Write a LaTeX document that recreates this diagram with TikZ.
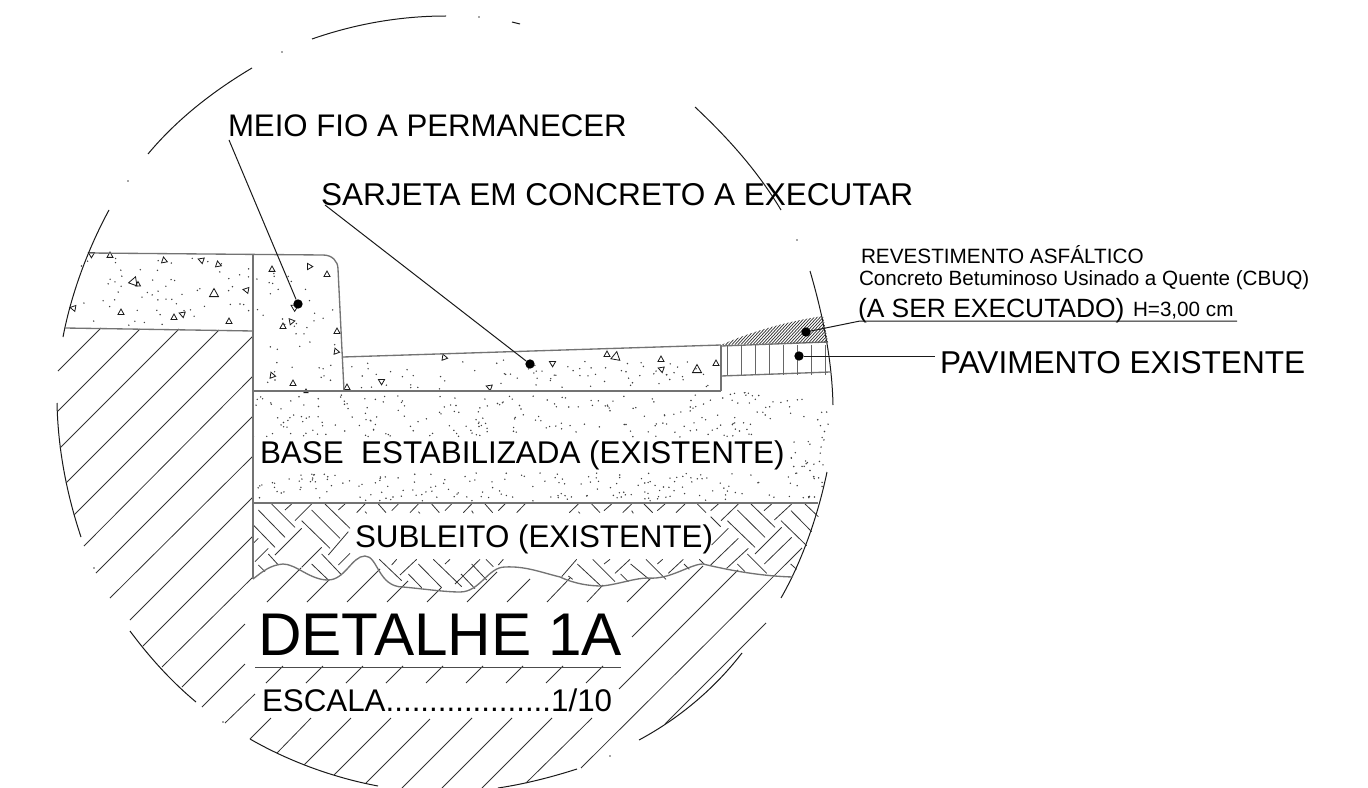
\documentclass[tikz,border=0pt]{standalone}
\usepackage{fontspec}
\setmainfont{Liberation Sans}
\newcommand{\fs}[1]{\fontsize{#1}{#1}\selectfont}
\newcommand{\tri}[4]{\draw[tri,rotate around={#4:(#1,#2)}] (#1-#3,#2+#3*.8) -- (#1+#3,#2+#3*.8) -- (#1,#2-#3) -- cycle;}
\tikzset{
 arcl/.style={draw=black!90,line width=.75pt},
 hat/.style={draw=black!80,line width=.6pt},
 edge/.style={draw=black!55,line width=1pt},
 tri/.style={draw=black!90,line width=.6pt},
 lead/.style={draw=black!90,line width=.75pt},
 lab/.style={anchor=base west,inner sep=0pt,outer sep=0pt,text=black},
 mark dot/.style={circle,fill=black,inner sep=0pt,minimum size=7pt},
}
\begin{document}
\begin{tikzpicture}[x=.75pt,y=-.75pt]
\useasboundingbox (0,0) rectangle (1368,788);
% ----- circle arcs
\draw[arcl] (63,337) .. controls (72,290) and (90,245) .. (109,210);
\draw[arcl] (148,154) .. controls (178,118) and (215,90) .. (252,68);
\draw[arcl] (312,39) .. controls (355,24) and (400,16) .. (446,16);
\draw[arcl] (512,22) -- (520,24);
\draw[arcl] (695,107) .. controls (727,137) and (757,170) .. (781,210);
\draw[arcl] (810,271) .. controls (822,312) and (832,358) .. (833,405);
\draw[arcl] (57,403) .. controls (58,450) and (67,495) .. (81,537);
\draw[arcl] (130,631) .. controls (150,658) and (172,682) .. (196,702);
\draw[arcl] (250,739) .. controls (290,762) and (335,778) .. (378,786);
\draw[arcl] (498,788) .. controls (525,784) and (552,777) .. (577,769);
\draw[arcl] (639,740) .. controls (680,718) and (715,688) .. (742,653);
\draw[arcl] (827,472) .. controls (817,520) and (800,565) .. (781,598);
\foreach \x/\y in {479/17,282/52,128/181,797/240,94/568,223/722,610/756}
 {\fill[black!70] (\x,\y) circle (.8);}
% ----- section hatch (45 deg lines as x1 y1 x2 y2)
\foreach \a/\b/\c/\d in {
 58/371/101/328, 58/411/140/329, 60/448/179/329, 66/483/219/330,
 74/515/253/336, 84/546/253/376, 96/573/253/416, 110/598/253/456, 130/620/253/497,
 143/646/253/536, 162/667/253/577, 182/687/245/624, 202/707/245/664, 225/723/255/694,
 250/739/271/718, 277/753/311/718, 304/765/351/718, 334/775/391/718, 366/783/430/719,
 402/788/472/718, 442/788/512/718, 482/788/552/718, 526/783/592/718,
 267/602/301/568, 307/602/329/580, 347/602/380/569, 387/602/408/581, 427/602/441/588,
 467/602/497/572, 507/602/530/579, 547/602/570/578, 587/602/603/585, 627/602/650/579,
 632/637/703/566, 619/689/738/570, 581/768/802/548, 665/724/766/623,
 266/683/283/666, 306/683/323/666, 346/683/363/666, 386/683/403/666,
 426/683/443/666, 466/683/483/666, 506/683/523/666, 546/683/563/666, 586/683/603/666}
 {\draw[hat] (\a,\b) -- (\c,\d);}
% ----- herringbone in the subgrade, left part (zoom units origin 230,490)
\begin{scope}[shift={(230,490)},x=.25pt,y=-.25pt]
\foreach \a/\b/\c/\d in {
 165/60/185/42, 195/92/245/42, 325/60/345/42, 380/68/405/42, 485/62/505/42, 540/68/565/42,
 645/62/665/42, 700/68/725/42, 805/62/825/42, 860/68/885/42,
 405/65/410/70, 445/42/468/68, 565/65/570/70, 605/42/628/68, 725/62/730/70, 765/42/788/68,
 85/60/165/142, 125/42/195/112, 70/105/135/172, 245/60/330/145, 215/92/300/175, 285/42/360/115,
 115/192/145/225, 85/225/105/245, 245/222/295/270, 275/192/335/255,
 448/208/515/272, 535/252/575/293, 565/222/635/293, 610/208/695/290, 693/252/735/296,
 725/222/770/270, 768/208/790/230,
 70/160/85/145, 75/215/115/175, 135/195/215/115, 295/195/355/125, 215/232/275/172, 325/225/360/190,
 510/255/560/208, 485/225/500/208, 645/222/660/208, 675/282/750/208, 805/225/820/208}
 {\draw[hat] (\a,\b) -- (\c,\d);}
\end{scope}
% ----- herringbone, right part (zoom units origin 560,490)
\begin{scope}[shift={(560,490)},x=.25pt,y=-.25pt]
\foreach \a/\b/\c/\d in {
 28/68/55/42, 55/65/60/70, 95/42/120/68, 132/62/155/42, 188/68/215/42, 215/62/220/70,
 252/42/278/68, 292/62/315/42, 348/68/375/42, 412/42/438/68, 452/62/475/42,
 455/165/505/115, 452/225/535/145, 500/235/565/175, 483/92/535/42, 585/192/665/112,
 613/222/695/142, 643/90/695/42, 612/62/635/42,
 532/60/615/142, 502/92/585/172, 573/42/645/112, 693/62/755/125, 663/92/740/167, 735/42/775/80,
 452/80/482/110, 562/192/620/250, 532/222/555/245, 692/222/710/238,
 5/260/50/208, 165/250/210/208, 325/250/370/208, 132/222/150/208, 292/222/308/208,
 52/222/125/290, 98/208/165/275, 212/222/270/270, 258/208/318/268, 182/252/205/275,
 372/222/388/238, 418/208/432/222, 25/258/38/268}
 {\draw[hat] (\a,\b) -- (\c,\d);}
\end{scope}
% ----- stipple
\pgfmathsetseed{1368}
\begin{scope}
\clip (253,392) rectangle (832,503);
\foreach \i in {1,...,230}{
 \pgfmathsetmacro{\x}{253+577*rnd}\pgfmathsetmacro{\y}{395+42*rnd}
 \fill[black!75] (\x,\y) circle (.8);}
\foreach \i in {1,...,190}{
 \pgfmathsetmacro{\x}{253+570*rnd}\pgfmathsetmacro{\y}{473+28*rnd}
 \fill[black!75] (\x,\y) circle (.8);}
\foreach \i in {1,...,22}{
 \pgfmathsetmacro{\x}{790+38*rnd}\pgfmathsetmacro{\y}{435+40*rnd}
 \fill[black!75] (\x,\y) circle (.8);}
\foreach \i in {1,...,35}{
 \pgfmathsetmacro{\x}{722+106*rnd}\pgfmathsetmacro{\y}{378+18*rnd}
 \fill[black!75] (\x,\y) circle (.8);}
\end{scope}
\foreach \i in {1,...,60}{
 \pgfmathsetmacro{\x}{78+172*rnd}\pgfmathsetmacro{\y}{258+68*rnd}
 \fill[black!75] (\x,\y) circle (.8);}
\foreach \i in {1,...,40}{
 \pgfmathsetmacro{\x}{256+80*rnd}\pgfmathsetmacro{\y}{260+128*rnd}
 \fill[black!75] (\x,\y) circle (.8);}
\foreach \i in {1,...,75}{
 \pgfmathsetmacro{\x}{346+372*rnd}\pgfmathsetmacro{\y}{360+29*rnd}
 \fill[black!75] (\x,\y) circle (.8);}
% ----- aggregate triangles
\foreach \a/\b/\s/\r in {92/254/3/-60,110/255/3/0,164/260/3/10,201/260/3/70,218/264/3/10,134/281/4.5/-20,138/284/2.5/0,214/293/4.5/0,246/290/3/80,73/308/3/80,121/312/3/0,174/317/3/0,182/314/3/70,229/321/3/0,272/269/3/0,309/266/3/30,327/274/3/0,294/307/3.5/60,291/321/3/40,283/326/3/0,337/331/3/0,336/351/3/20,272/375/3/20,293/383/3/0,306/391/2/0,347/387/3/0,444/357/3/20,
 489/387/3/70,552/363/3/60,607/354/3/0,616/356/4.5/-10,661/359/3/0,661/369/3/70,697/369/4.5/0,716/363/3/0,381/381/3/60}
 {\tri{\a}{\b}{\s}{\r}}
% ----- outlines
\draw[edge] (89,253) -- (323,255) .. controls (332,255) and (338,261) .. (338,269) -- (344,391);
\draw[edge] (65,328) -- (253,331);
\draw[edge] (253,254) -- (253,579);
\draw[edge] (343,357) -- (721,345);
\draw[edge] (253,391) -- (721,391);
\draw[edge] (721,345) -- (721,391);
\draw[edge] (253,503) -- (818,503);
\draw[edge] (253,579) .. controls (262,572) and (270,565) .. (283,564)
 .. controls (296,564) and (310,580) .. (328,580)
 .. controls (345,580) and (352,556) .. (365,556)
 .. controls (378,556) and (378,587) .. (403,587)
 .. controls (425,589) and (445,592) .. (460,592)
 .. controls (480,592) and (488,567) .. (505,567)
 .. controls (525,566) and (540,572) .. (560,577)
 .. controls (575,584) and (590,586) .. (602,586)
 .. controls (620,584) and (635,578) .. (648,578)
 .. controls (670,580) and (690,564) .. (703,564)
 .. controls (720,568) and (755,576) .. (793,577);
% ----- existing pavement
\draw[edge] (721,346) -- (828,342);
\draw[edge] (721,376) -- (830,372);
\foreach \x in {727,741,755,769,783,797,811,825}
 {\draw[draw=black!60,line width=.55pt] (\x,345) -- (\x,375);}
% ----- asphalt wedge
\begin{scope}
\clip (721,345) .. controls (755,330) and (790,321) .. (823,316) -- (828,342) -- cycle;
\foreach \k in {0,...,50}{\draw[black!80,line width=.55pt] (715+3*\k,350) -- (750+3*\k,312);}
\end{scope}
% ----- labels
\node[lab] (meio) at (228,137) {\fs{23.4}MEIO FIO A PERMANECER};
\node[lab] (sarjeta) at (321,205.5) {\fs{23.65}SARJETA EM CONCRETO A EXECUTAR};
\node[lab] (rev) at (861,263) {\fs{15.55}REVESTIMENTO ASFÁLTICO};
\node[lab] (cbuq) at (859,286) {\fs{15.5}Concreto Betuminoso Usinado a Quente (CBUQ)};
\node[lab] (aser) at (858,317) {\fs{19.8}(A SER EXECUTADO)};
\node[lab] (h) at (1133,316) {\fs{15.5}H=3,00 cm};
\node[lab] (pav) at (940,373) {\fs{23.7}PAVIMENTO EXISTENTE};
\node[lab] (base) at (260,463) {\fs{23.55}BASE\ \ ESTABILIZADA (EXISTENTE)};
\node[lab] (sub) at (355,547) {\fs{23.5}SUBLEITO (EXISTENTE)};
\node[lab] (det) at (258,655) {\fs{45.2}DETALHE 1A};
\node[lab] (esc) at (262,711) {\fs{23.5}ESCALA...................1/10};
\coordinate (detl) at (255,667.5);
\coordinate (detr) at (621,667.5);
\draw[draw=black!70,line width=.8pt] (detl) -- (detr);
% ----- leaders
\node[mark dot] (d1) at (298,304) {};
\node[mark dot] (d2) at (530,364) {};
\node[mark dot] (d3) at (806,332) {};
\node[mark dot] (d4) at (799,356) {};
\coordinate (e1) at (229,140);
\coordinate (e2) at (325,205);
\coordinate (e3) at (860,321);
\coordinate (e3b) at (1237,321);
\coordinate (e4) at (935,356);
\draw[lead] (e1) -- (d1);
\draw[lead] (e2) -- (d2);
\draw[lead] (d3) -- (e3) -- (e3b);
\draw[lead] (d4) -- (e4);
\end{tikzpicture}
\end{document}
